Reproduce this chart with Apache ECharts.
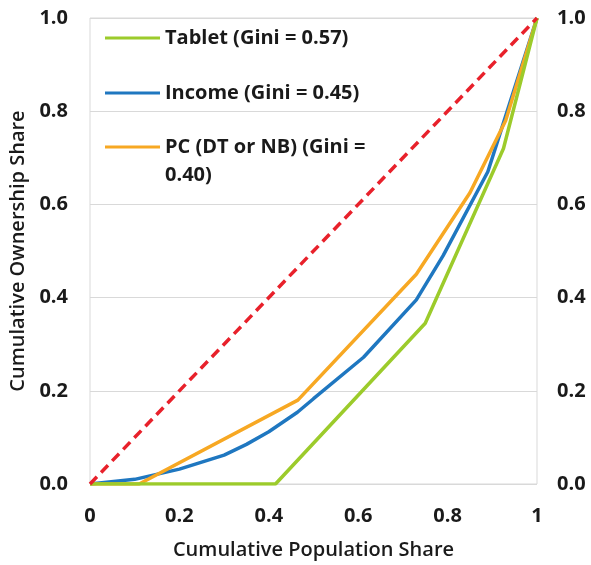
<!DOCTYPE html>
<html>
<head>
<meta charset="utf-8">
<script src="https://cdn.jsdelivr.net/npm/echarts@6/dist/echarts.min.js"></script>
<style>
  html, body { margin: 0; padding: 0; background: #fff; }
  #chart { width: 591px; height: 565px; }
</style>
</head>
<body>
<div id="chart"></div>
<script>
// Lorenz curves: cumulative population share (x) vs cumulative ownership share (y)
const tabletName = 'Tablet (Gini = 0.57)';
const incomeName = 'Income (Gini = 0.45)';
const pcName = 'PC (DT or NB) (Gini = 0.40)';

const tabletX = [0, 0.415, 0.75, 0.925, 1];
const tabletY = [0, 0, 0.345, 0.72, 1];

const incomeX = [0, 0.1, 0.2, 0.3, 0.35, 0.4, 0.464, 0.5, 0.612, 0.73, 0.79, 0.89, 0.94, 1];
const incomeY = [0, 0.01, 0.032, 0.062, 0.085, 0.112, 0.154, 0.183, 0.272, 0.395, 0.49, 0.67, 0.82, 1];

const pcX = [0, 0.11, 0.465, 0.73, 0.85, 0.93, 1];
const pcY = [0, 0, 0.18, 0.45, 0.625, 0.78, 1];

const equalityX = [0, 1];
const equalityY = [0, 1];

const pairs = (xs, ys) => xs.map((x, i) => [x, ys[i]]);

const FONT = '"Open Sans"';
const TEXT = '#1a1a1a';

const chart = echarts.init(document.getElementById('chart'), null, { renderer: 'canvas' });

const tickLabel = { fontFamily: FONT, fontWeight: 'bold', fontSize: 20, color: TEXT };
const titleText = { fontFamily: FONT, fontWeight: 600, fontSize: 20, color: TEXT };

const yAxisBase = {
  type: 'value',
  min: 0, max: 1, interval: 0.2,
  axisLine: { show: false },
  axisTick: { show: false },
  axisLabel: Object.assign({}, tickLabel, { formatter: v => v.toFixed(1) })
};

const legendText = { fontFamily: FONT, fontWeight: 'bold', fontSize: 20, color: TEXT, lineHeight: 28 };
const legendIcon = 'path://M0,6 L55,6 L55,9 L0,9 Z';

chart.setOption({
  backgroundColor: '#ffffff',
  animation: false,
  grid: {
    left: 89, right: 54, top: 18, bottom: 81,
    show: true, borderColor: '#d9d9d9', borderWidth: 1
  },
  legend: [
    {
      data: [tabletName, incomeName],
      orient: 'vertical', left: 105, top: 24, itemGap: 27, padding: 0,
      itemWidth: 55, itemHeight: 14, icon: legendIcon,
      textStyle: legendText
    },
    {
      // leading blank line keeps the swatch level with the first text line
      data: [pcName],
      orient: 'vertical', left: 105, top: 105, padding: 0,
      itemWidth: 55, itemHeight: 14, icon: legendIcon,
      formatter: () => ' \nPC (DT or NB) (Gini =\n0.40)',
      textStyle: legendText
    }
  ],
  xAxis: {
    type: 'value',
    min: 0, max: 1, interval: 0.2,
    name: 'Cumulative Population Share',
    nameLocation: 'middle', nameGap: 56,
    nameTextStyle: titleText,
    axisLine: { show: false },
    axisTick: { show: false },
    splitLine: { show: false },
    axisLabel: Object.assign({}, tickLabel, {
      margin: 22,
      formatter: v => (v === 0 ? '0' : v === 1 ? '1' : v.toFixed(1))
    })
  },
  yAxis: [
    Object.assign({}, yAxisBase, {
      position: 'left',
      name: 'Cumulative Ownership Share',
      nameLocation: 'middle', nameGap: 62,
      nameTextStyle: titleText,
      axisLabel: Object.assign({}, yAxisBase.axisLabel, { margin: 22 }),
      splitLine: { show: true, lineStyle: { color: '#d9d9d9', width: 1 } }
    }),
    Object.assign({}, yAxisBase, {
      position: 'right',
      axisLabel: Object.assign({}, yAxisBase.axisLabel, { margin: 20 }),
      splitLine: { show: false }
    })
  ],
  series: [
    {
      name: incomeName, type: 'line', data: pairs(incomeX, incomeY),
      showSymbol: false, symbol: 'none', z: 2,
      lineStyle: { color: '#1f77c0', width: 3.5 }, itemStyle: { color: '#1f77c0' }
    },
    {
      name: pcName, type: 'line', data: pairs(pcX, pcY),
      showSymbol: false, symbol: 'none', z: 3,
      lineStyle: { color: '#f7a823', width: 3.5 }, itemStyle: { color: '#f7a823' }
    },
    {
      name: tabletName, type: 'line', data: pairs(tabletX, tabletY),
      showSymbol: false, symbol: 'none', z: 4,
      lineStyle: { color: '#9ccb2b', width: 3.5 }, itemStyle: { color: '#9ccb2b' }
    },
    {
      name: 'Equality', type: 'line', data: pairs(equalityX, equalityY),
      showSymbol: false, symbol: 'none', z: 5,
      lineStyle: { color: '#e8212b', width: 3.5, type: [10, 6] }
    }
  ]
});
</script>
</body>
</html>
